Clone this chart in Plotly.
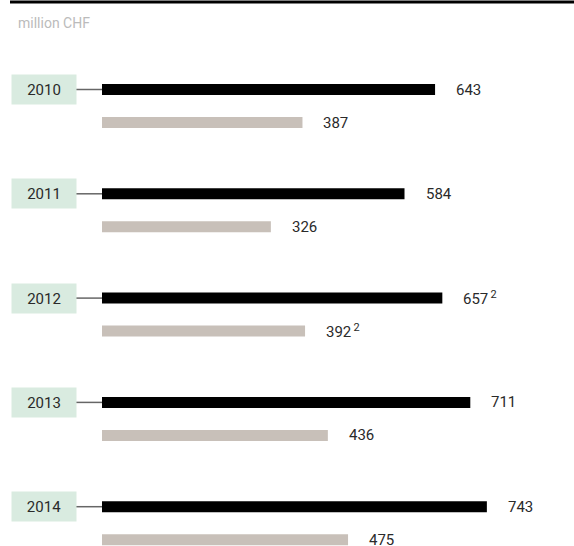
import plotly.graph_objects as go

years = ["2010", "2011", "2012", "2013", "2014"]
series_a = [643, 584, 657, 711, 743]
series_b = [387, 326, 392, 436, 475]
labels_a = ["643", "584", "657<span style='font-size:9px'> </span><sup><span style='font-size:11px'>2</span></sup>", "711", "743"]
labels_b = ["387", "326", "392<span style='font-size:9px'> </span><sup><span style='font-size:11px'>2</span></sup>", "436", "475"]
unit_label = "million CHF"

W, H = 574, 546
X0_PX = 102          # pixel where value 0 sits
PX_PER_UNIT = 0.518
ROW_TOP = 89.5
ROW_STEP = 104.3
PAIR_GAP = 33
BAR_H = 11

x_end_px = 568
x_range_max = (x_end_px - X0_PX) / PX_PER_UNIT

ya = [ROW_TOP + i * ROW_STEP for i in range(len(years))]
yb = [y + PAIR_GAP for y in ya]

FONT = "Roboto"
TXT = "#2a2a2a"

fig = go.Figure()
fig.add_trace(go.Bar(x=series_a, y=ya, orientation="h", width=BAR_H,
                     marker=dict(color="#000000", line=dict(width=0)),
                     hoverinfo="skip", showlegend=False))
fig.add_trace(go.Bar(x=series_b, y=yb, orientation="h", width=BAR_H,
                     marker=dict(color="#c8c0b9", line=dict(width=0)),
                     hoverinfo="skip", showlegend=False))

annotations = []
shapes = []
for i, yr in enumerate(years):
    annotations.append(dict(x=series_a[i], y=ya[i], xref="x", yref="y", text=labels_a[i],
                            xanchor="left", yanchor="middle", xshift=19, showarrow=False,
                            font=dict(family=FONT, size=15, color=TXT)))
    annotations.append(dict(x=series_b[i], y=yb[i], xref="x", yref="y", text=labels_b[i],
                            xanchor="left", yanchor="middle", xshift=19, showarrow=False,
                            font=dict(family=FONT, size=15, color=TXT)))
    # year box
    annotations.append(dict(x=44 / W, y=ya[i], xref="paper", yref="y", text=yr,
                            xanchor="center", yanchor="middle", showarrow=False,
                            width=64, height=29, borderpad=0, bgcolor="#d9ebe0",
                            font=dict(family=FONT, size=15, color=TXT)))
    shapes.append(dict(type="line", xref="paper", yref="y", x0=76 / W, x1=X0_PX / W,
                       y0=ya[i], y1=ya[i], line=dict(color="#666666", width=1.5)))

annotations.append(dict(x=16 / W, y=23, xref="paper", yref="y", text=unit_label,
                        xanchor="left", yanchor="middle", showarrow=False,
                        font=dict(family=FONT, size=14, color="#bbbbbb")))
shapes.append(dict(type="line", xref="paper", yref="y", x0=10 / W, x1=1,
                   y0=2, y1=2, line=dict(color="#000000", width=3)))

fig.update_layout(
    width=W, height=H,
    margin=dict(l=0, r=0, t=0, b=0),
    paper_bgcolor="white", plot_bgcolor="white",
    barmode="overlay",
    xaxis=dict(domain=[X0_PX / W, x_end_px / W], range=[0, x_range_max],
               visible=False, showgrid=False, zeroline=False, fixedrange=True),
    yaxis=dict(domain=[0, 1], range=[H, 0], visible=False, showgrid=False,
               zeroline=False, fixedrange=True),
    annotations=annotations,
    shapes=shapes,
)

fig.write_html("out.html")
